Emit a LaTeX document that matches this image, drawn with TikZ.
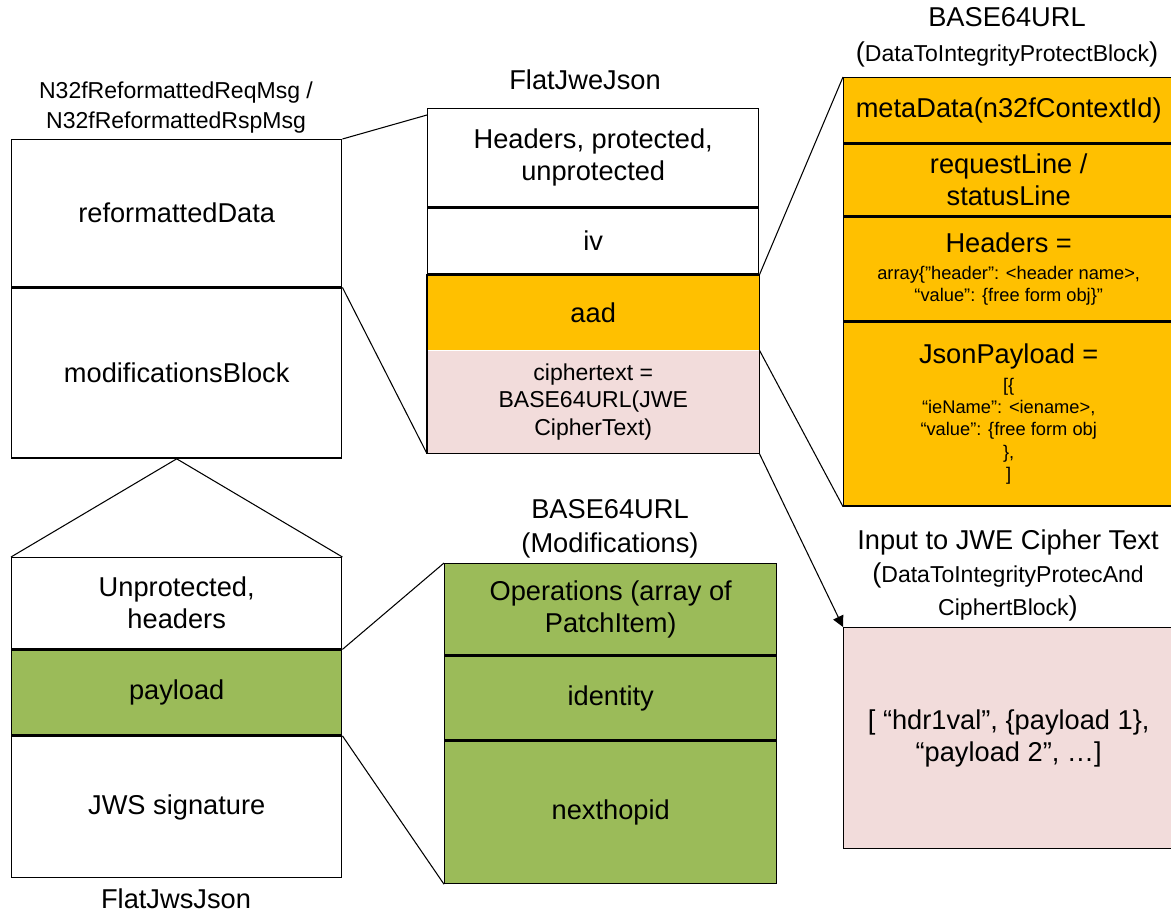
\documentclass[tikz,border=0pt]{standalone}
\usepackage{fontspec}
\setmainfont{Liberation Sans}
\usepackage{xcolor}
\usetikzlibrary{arrows.meta,positioning}
\definecolor{aadorange}{HTML}{FFC000}
\definecolor{cipherpink}{HTML}{F2DCDB}
\definecolor{modgreen}{HTML}{9BBB59}
\newcommand{\bigf}{\fontsize{15.5}{18.2}\selectfont}
\newcommand{\midf}{\fontsize{13.1}{15.6}\selectfont}
\newcommand{\smf}{\fontsize{10.4}{12.6}\selectfont}

\begin{document}
\begin{tikzpicture}[x=0.2mm, y=-0.2mm,
cell/.style={draw, line width=0.8pt, minimum width=66mm, inner sep=0pt, align=center, font=\bigf},
lbl/.style={align=center, font=\bigf},
link/.style={line width=0.6pt},
feed/.style={link, -{Triangle[length=2.2mm,width=2.2mm]}}]
    \useasboundingbox (0,0) rectangle (1171,913);

    % N32f message
    \node[lbl, font=\midf] (n32lbl) at (176,108) {N32fReformattedReqMsg /\\[1.5pt]N32fReformattedRspMsg};
    \node[cell, anchor=north west, minimum height=29.4mm] (rdata) at (11,139) {reformattedData};
    \node[cell, below=0pt of rdata, minimum height=34mm] (mblock) {modificationsBlock};

    % FlatJweJson
    \node[lbl] (jwelbl) at (585,80) {FlatJweJson};
    \node[cell, anchor=north west, minimum width=66.2mm, minimum height=19.6mm] (jhdr) at (427,108) {Headers, protected,\\unprotected};
    \node[cell, below=0pt of jhdr, minimum width=66.2mm, minimum height=13.2mm] (jiv) {iv};
    \node[cell, draw=none, below=0pt of jiv, minimum width=66.2mm, minimum height=14.8mm, fill=aadorange] (jaad) {aad};
    \node[cell, draw=none, below=0pt of jaad, minimum width=66.2mm, minimum height=20.4mm, fill=cipherpink, font=\midf] (jct) {ciphertext =\\BASE64URL(JWE\\CipherText)};
    \draw[line width=0.8pt] (jiv.south west) -- (jct.south west) -- (jct.south east) -- (jiv.south east) -- cycle;

    % data to integrity protect
    \node[lbl] (b64lbl) at (1007,37) {BASE64URL\\[1.7pt]({\midf DataToIntegrityProtectBlock})};
    \node[cell, anchor=north west, fill=aadorange, minimum height=13mm] (meta) at (843,77) {metaData(n32fContextId)};
    \node[cell, below=0pt of meta, fill=aadorange, minimum height=14.4mm] (rline) {requestLine /\\statusLine};
    \node[cell, below=0pt of rline, fill=aadorange, minimum height=20.6mm, font=\smf] (hdrs) {{\bigf Headers =}\\[2.6pt]array\{”header”: <header name>,\\“value”: \{free form obj\}”};
    \node[cell, below=0pt of hdrs, fill=aadorange, minimum height=36.8mm, font=\smf] (jpay) {{\bigf JsonPayload =}\\[3.3pt][\{\\“ieName”: <iename>,\\“value”: \{free form obj\\\},\\]};

    % input to cipher text
    \node[lbl] (inlbl) at (1008,575) {Input to JWE Cipher Text\\[0.6pt]({\midf DataToIntegrityProtecAnd}\\[0.6pt]{\midf CiphertBlock})};
    \node[cell, anchor=north west, fill=cipherpink, minimum height=44.2mm] (ctin) at (843,627) {[ “hdr1val”, \{payload 1\},\\“payload 2”, …]};

    % modifications
    \node[lbl] (modlbl) at (610,529) {BASE64URL\\[1pt](Modifications)};
    \node[cell, anchor=north west, fill=modgreen, minimum width=66.4mm, minimum height=18.2mm] (ops) at (444,563) {Operations (array of\\PatchItem)};
    \node[cell, below=0pt of ops, fill=modgreen, minimum width=66.4mm, minimum height=16.8mm] (ident) {identity};
    \node[cell, below=0pt of ident, fill=modgreen, minimum width=66.4mm, minimum height=28.4mm] (nhop) {nexthopid};

    % FlatJwsJson
    \node[cell, anchor=north west, minimum height=18.2mm] (unprot) at (11,557) {Unprotected,\\headers};
    \node[cell, below=0pt of unprot, fill=modgreen, minimum height=17mm] (pload) {payload};
    \node[cell, below=0pt of pload, minimum height=28.2mm] (jsig) {JWS signature};
    \node[lbl] (jwslbl) at (176,899) {FlatJwsJson};

    % connectors
    \draw[link] (rdata.north east) -- ([yshift=-1.4mm]jhdr.north west);
    \draw[link] (rdata.south east) -- (jct.south west);
    \draw[link] (jaad.north east) -- (meta.north west);
    \draw[link] (jct.north east) -- (jpay.south west);
    \draw[feed] (jct.south east) -- (ctin.north west);
    \draw[link] (unprot.north west) -- (mblock.south) -- (unprot.north east);
    \draw[link] (pload.north east) -- (ops.north west);
    \draw[link] (pload.south east) -- (nhop.south west);
\end{tikzpicture}
\end{document}
